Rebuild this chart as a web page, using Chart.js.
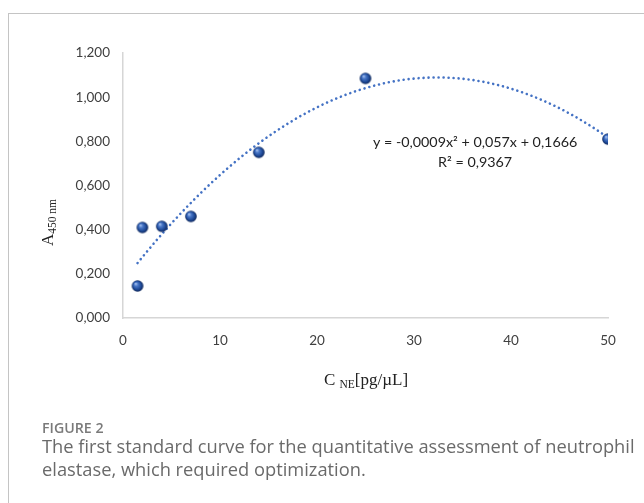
<!DOCTYPE html>
<html>
<head>
<meta charset="utf-8">
<script src="https://cdn.jsdelivr.net/npm/chart.js@4.4.1/dist/chart.umd.min.js"></script>
<style>
  html, body { margin: 0; padding: 0; background: #ffffff; }
  body { width: 644px; height: 503px; position: relative; overflow: hidden; }
  #frame {
    position: absolute; left: 8px; top: 13px; width: 640px; height: 495px;
    border-left: 1.5px solid #c4c4c4; border-top: 1.5px solid #c4c4c4;
  }
  #wrap { position: absolute; left: 0; top: 0; width: 644px; height: 503px; }
  #fig-label {
    position: absolute; left: 42px; top: 418px;
    font-family: "Open Sans", sans-serif; font-weight: 600; font-size: 14.2px;
    color: #7a7a7a;
  }
  #fig-text {
    position: absolute; left: 42px; top: 434px; width: 602px;
    font-family: "Open Sans", sans-serif; font-size: 18.3px; line-height: 23px;
    color: #6a6a6a; white-space: nowrap;
  }
</style>
</head>
<body>
<div id="frame"></div>
<div id="wrap"><canvas id="chart" width="644" height="503"></canvas></div>
<div id="fig-label">FIGURE 2</div>
<div id="fig-text">The first standard curve for the quantitative assessment of neutrophil<br>elastase, which required optimization.</div>
<script>
// Standard concentrations of neutrophil elastase (pg/µL) and measured absorbance
const concentrations = [1.5, 2, 4, 7, 14, 25, 50];
const absorbance = [0.145, 0.41, 0.415, 0.46, 0.75, 1.085, 0.81];

// Axis ticks
const xTicks = [0, 10, 20, 30, 40, 50];
const yTicks = [0, 0.2, 0.4, 0.6, 0.8, 1.0, 1.2];
const yTickLabels = ['0,000', '0,200', '0,400', '0,600', '0,800', '1,000', '1,200'];

// Trendline annotation
const equationLines = ['y = -0,0009x\u00B2 + 0,057x + 0,1666', 'R\u00B2 = 0,9367'];
const equationAnchor = [36.3, 0.794];

// Second-order polynomial least-squares fit of the standards (the trendline)
function quadFit(xs, ys) {
  let S = [0, 0, 0, 0, 0], T = [0, 0, 0];
  xs.forEach((x, i) => {
    let p = 1;
    for (let k = 0; k < 5; k++) { S[k] += p; if (k < 3) T[k] += p * ys[i]; p *= x; }
  });
  const A = [[S[0], S[1], S[2], T[0]], [S[1], S[2], S[3], T[1]], [S[2], S[3], S[4], T[2]]];
  for (let c = 0; c < 3; c++) {
    for (let r = c + 1; r < 3; r++) {
      const f = A[r][c] / A[c][c];
      for (let k = c; k < 4; k++) A[r][k] -= f * A[c][k];
    }
  }
  const b = [0, 0, 0];
  for (let r = 2; r >= 0; r--) {
    let s = A[r][3];
    for (let k = r + 1; k < 3; k++) s -= A[r][k] * b[k];
    b[r] = s / A[r][r];
  }
  return b; // [c0, c1, c2]
}
const coef = quadFit(concentrations, absorbance);
const xMin = Math.min(...concentrations), xMax = Math.max(...concentrations);
const trend = [];
for (let i = 0; i <= 120; i++) {
  const x = xMin + (xMax - xMin) * i / 120;
  trend.push({ x, y: coef[0] + coef[1] * x + coef[2] * x * x });
}

// Shaded sphere used as the point marker
function sphere(r) {
  const c = document.createElement('canvas');
  const s = Math.ceil(r * 2 + 2);
  c.width = s; c.height = s;
  const g = c.getContext('2d');
  const cx = s / 2, cy = s / 2;
  const grad = g.createRadialGradient(cx - r * 0.35, cy - r * 0.4, r * 0.05, cx, cy, r);
  grad.addColorStop(0, '#a9c4f0');
  grad.addColorStop(0.3, '#4a78c8');
  grad.addColorStop(0.7, '#1f4a98');
  grad.addColorStop(1, '#0e2658');
  g.fillStyle = grad;
  g.beginPath(); g.arc(cx, cy, r, 0, Math.PI * 2); g.fill();
  return c;
}
const marker = sphere(5.8);

const tickColor = '#404040';
const tickFont = { family: 'Lato, "Open Sans", sans-serif', size: 13.5 };

// Axis titles with subscripts and the equation label
const extras = {
  id: 'extras',
  afterDraw(chart) {
    const ctx = chart.ctx;
    const { x, y } = chart.scales;
    ctx.save();
    ctx.fillStyle = '#222222';
    // x title: C_NE[pg/µL]
    const big = '17px "Liberation Serif", "Times New Roman", serif';
    const small = '11.5px "Liberation Serif", "Times New Roman", serif';
    const parts = [['C ', big, 0], ['NE', small, 3], ['[pg/\u00B5L]', big, 0]];
    ctx.textBaseline = 'alphabetic';
    let w = 0;
    parts.forEach(p => { ctx.font = p[1]; w += ctx.measureText(p[0]).width; });
    const cx = (x.left + x.right) / 2 + 0.5;
    let px = cx - w / 2;
    const baseX = x.top + 67;
    parts.forEach(p => { ctx.font = p[1]; ctx.fillText(p[0], px, baseX + p[2]); px += ctx.measureText(p[0]).width; });
    // y title: A_450 nm
    const yparts = [['A', big, 0], ['450 nm', small, 3]];
    ctx.save();
    ctx.translate(y.left + 33, (y.top + y.bottom) / 2 + 37);
    ctx.rotate(-Math.PI / 2);
    let wy = 0;
    yparts.forEach(p => { ctx.font = p[1]; wy += ctx.measureText(p[0]).width; });
    let py = -wy / 2;
    yparts.forEach(p => { ctx.font = p[1]; ctx.fillText(p[0], py, p[2]); py += ctx.measureText(p[0]).width; });
    ctx.restore();
    // equation and R²
    ctx.font = '14.3px Lato, "Open Sans", sans-serif';
    ctx.fillStyle = '#222222';
    ctx.textAlign = 'center';
    ctx.textBaseline = 'middle';
    const ex = x.getPixelForValue(equationAnchor[0]);
    const ey = y.getPixelForValue(equationAnchor[1]);
    ctx.fillText(equationLines[0], ex, ey);
    ctx.fillText(equationLines[1], ex, ey + 20);
    ctx.restore();
  }
};

new Chart(document.getElementById('chart'), {
  type: 'scatter',
  data: {
    datasets: [
      {
        label: 'Trend',
        data: trend,
        showLine: true,
        borderColor: '#4472c4',
        borderWidth: 2.6,
        borderDash: [0.01, 5],
        borderCapStyle: 'round',
        pointRadius: 0,
        fill: false,
        order: 2
      },
      {
        label: 'Standards',
        data: concentrations.map((c, i) => ({ x: c, y: absorbance[i] })),
        pointStyle: marker,
        pointRadius: 6,
        order: 1
      }
    ]
  },
  options: {
    responsive: false,
    animation: false,
    devicePixelRatio: 1,
    layout: { padding: { left: 20, right: 36, top: 53, bottom: 105 } },
    plugins: { legend: { display: false }, tooltip: { enabled: false } },
    scales: {
      x: {
        type: 'linear', min: xTicks[0], max: xTicks[xTicks.length - 1],
        afterBuildTicks: s => { s.ticks = xTicks.map(v => ({ value: v })); },
        afterFit: s => { s.height = 80; },
        grid: { display: false, drawTicks: false },
        border: { display: true, color: '#d6d6d6', width: 1.5 },
        ticks: { color: tickColor, font: tickFont, padding: 15, maxRotation: 0 }
      },
      y: {
        type: 'linear', min: yTicks[0], max: yTicks[yTicks.length - 1],
        afterBuildTicks: s => { s.ticks = yTicks.map(v => ({ value: v })); },
        afterFit: s => { s.width = 103; },
        grid: { display: false, drawTicks: false },
        border: { display: true, color: '#d6d6d6', width: 1.5 },
        ticks: { color: tickColor, font: tickFont, padding: 13,
          callback: (v, i) => yTickLabels[i] }
      }
    }
  },
  plugins: [extras]
});
</script>
</body>
</html>
